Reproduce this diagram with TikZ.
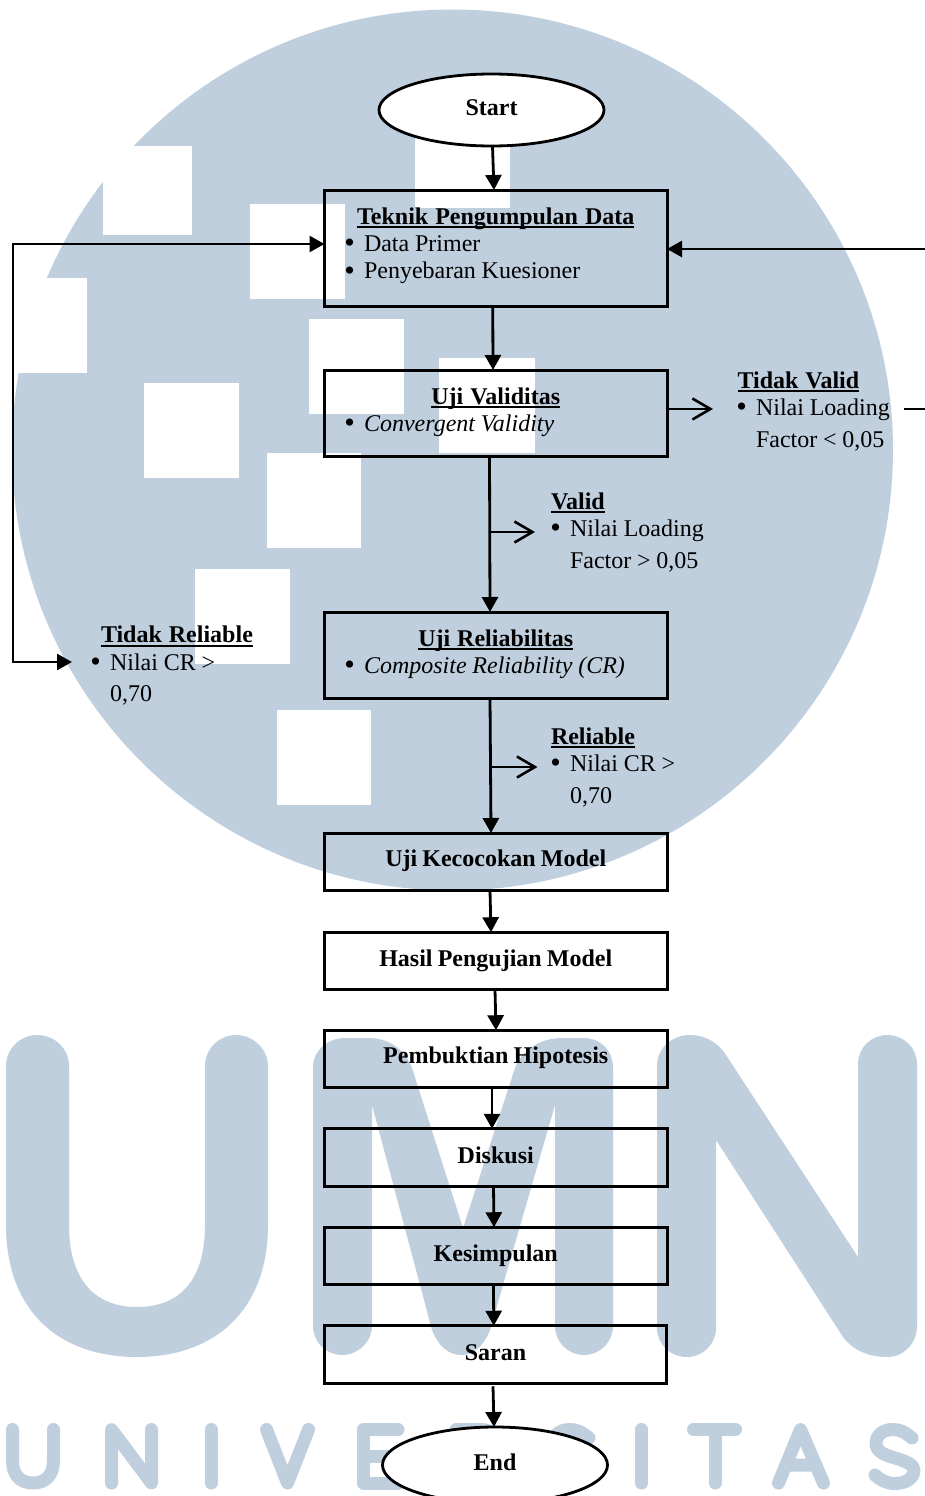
\documentclass[tikz,border=0pt]{standalone}
\usepackage{fontspec}
\setmainfont{Liberation Serif}[BoldFeatures={WordSpace=0.85}]
\usetikzlibrary{arrows.meta,shapes.geometric}
\definecolor{wm}{HTML}{BFCFDE}
\newcommand{\bodyfont}{\fontsize{24}{27.3}\selectfont}
\newcommand{\ttl}[1]{\textbf{\spaceskip=7pt\relax\setbox0=\hbox{#1}\rlap{\rule[-4pt]{\wd0}{2.2pt}}\box0}}
\newcommand{\bl}[2][39.5pt]{\hspace*{#1}\spaceskip=5.8pt\relax\llap{\raisebox{-1.5pt}{\fontsize{30}{27}\selectfont\textbullet}\hspace{9.2pt}}#2}
\newcommand{\ctn}[2][19pt]{\hspace*{#1}\spaceskip=5.8pt\relax #2}
\tikzset{
  x=1pt,y=-1pt,
  flowbox/.style={draw=black,line width=3pt,rectangle,minimum width=342.5pt,inner sep=0pt,outer sep=0pt,font=\bodyfont},
  onebox/.style={flowbox,minimum height=#1,text height=15pt,text depth=3.5pt,font=\fontsize{24}{27.3}\selectfont\bfseries},
  listbox/.style={flowbox,text width=342.5pt},
  terminal/.style={draw=black,line width=2.8pt,fill=white,ellipse,inner sep=0pt,outer sep=0pt,minimum width=225pt,text height=15pt,text depth=3.5pt,font=\fontsize{24}{27.3}\selectfont\bfseries},
  sidetext/.style={anchor=base west,inner sep=0pt,outer sep=0pt,text width=220pt,align=left,font=\bodyfont},
  flow/.style={line width=2.8pt,-{Triangle[length=15pt,width=16pt]}},
  openflow/.style={line width=2.6pt,-{Straight Barb[length=18pt,width=21pt,line width=2.6pt]}},
  plain/.style={line width=2.8pt},
  wmstroke/.style={draw=wm,line width=13pt,line cap=round,line join=round},
  hole/.style={fill=white,draw=none},
}
\begin{document}
\begin{tikzpicture}
\clip (0,0) rectangle (925,1496);
\fill[white] (0,0) rectangle (925,1496);
% watermark
\fill[wm] (452.5,450) circle[radius=440.5];
\fill[hole] (103,146) rectangle (192,235);
\fill[hole] (250,204) rectangle (345,299);
\fill[hole] (415,113) rectangle (510,208);
\fill[hole] (309,319) rectangle (404,414);
\fill[hole] (439,358) rectangle (534.5,453);
\fill[hole] (144,383) rectangle (239,478);
\fill[hole] (266.5,453) rectangle (361,548);
\fill[hole] (195,569) rectangle (290,664);
\fill[hole] (276.5,709.5) rectangle (371,804.5);
\fill[hole] (-5,278) rectangle (87,373);
% big U
\fill[wm] (6,1066) .. controls (6,1049) and (20,1035) .. (37,1035) .. controls (55,1035) and (69,1049) .. (69,1066) -- (69,1225) .. controls (69,1280) and (95,1307) .. (137,1307) .. controls (180,1307) and (205,1280) .. (205,1225) -- (205,1066) .. controls (205,1049) and (219,1035) .. (236,1035) .. controls (253,1035) and (268,1049) .. (268,1066) -- (268,1225) .. controls (268,1310) and (215,1357) .. (137,1357) .. controls (58,1357) and (6,1310) .. (6,1225) -- cycle;
% big M
\fill[wm] (313,1068) .. controls (313,1050) and (328,1038) .. (345,1038) -- (368,1038) .. controls (390,1038) and (405,1050) .. (412,1068) -- (463,1228) -- (515,1068) .. controls (522,1050) and (540,1038) .. (562,1038) -- (584,1038) .. controls (600,1038) and (613,1050) .. (613,1068) -- (613,1326) .. controls (613,1342) and (600,1355) .. (584,1355) .. controls (568,1355) and (555,1342) .. (555,1326) -- (555,1105) -- (490,1330) .. controls (484,1346) and (473,1355) .. (461,1355) .. controls (449,1355) and (438,1346) .. (432,1330) -- (372,1105) -- (372,1326) .. controls (372,1342) and (358,1355) .. (342,1355) .. controls (326,1355) and (313,1342) .. (313,1326) -- cycle;
% big N
\fill[wm] (657,1066) .. controls (657,1048) and (672,1035) .. (690,1035) .. controls (705,1035) and (716,1042) .. (724,1052) -- (858,1257) -- (858,1064) .. controls (858,1048) and (871,1035) .. (887,1035) .. controls (904,1035) and (917,1048) .. (917,1064) -- (917,1326) .. controls (917,1343) and (904,1357) .. (887,1357) .. controls (867,1357) and (852,1349) .. (843,1337) -- (716,1140) -- (716,1328) .. controls (716,1344) and (703,1357) .. (687,1357) .. controls (670,1357) and (657,1344) .. (657,1328) -- cycle;
% UNIVERSITAS
\draw[wmstroke] (12.5,1429.5) -- (12.5,1460) .. controls (12.5,1475) and (20,1483) .. (33,1483) .. controls (46,1483) and (53.5,1475) .. (53.5,1460) -- (53.5,1429.5);
\draw[wmstroke] (111.5,1483) -- (111.5,1429.5) -- (151.5,1483) -- (151.5,1429.5);
\draw[wmstroke] (211,1429.5) -- (211,1483);
\draw[wmstroke] (266.5,1429.5) -- (287.5,1483) -- (308.5,1429.5);
\draw[wmstroke] (398,1429.5) -- (363.5,1429.5) -- (363.5,1483) -- (398,1483) (363.5,1456) -- (394,1456);
\draw[wmstroke] (456,1483) -- (456,1429.5) -- (480,1429.5) .. controls (506,1429.5) and (506,1462) .. (480,1462) -- (456,1462) (480,1462) -- (502,1483);
\draw[wmstroke] (589,1438) .. controls (582,1432) and (577,1429.5) .. (570,1429.5) .. controls (559,1429.5) and (553,1436) .. (553,1443) .. controls (553,1452) and (562,1455) .. (572,1458) .. controls (583,1461) and (591,1465) .. (591,1470) .. controls (591,1478) and (583,1483.5) .. (572,1483.5) .. controls (564,1483.5) and (557,1480) .. (552,1475);
\draw[wmstroke] (641.5,1429.5) -- (641.5,1483);
\draw[wmstroke] (693.5,1429.5) -- (735.5,1429.5) (715,1429.5) -- (715,1483);
\draw[wmstroke] (778.5,1483) -- (800.5,1429.5) -- (823.5,1483) (786,1465) -- (816,1465);
\draw[wmstroke] (912,1438) .. controls (905,1432) and (900,1429.5) .. (893,1429.5) .. controls (882,1429.5) and (876,1436) .. (876,1443) .. controls (876,1452) and (885,1455) .. (895,1458) .. controls (906,1461) and (914,1465) .. (914,1470) .. controls (914,1478) and (906,1483.5) .. (895,1483.5) .. controls (887,1483.5) and (880,1480) .. (875,1475);
% nodes
\node[terminal,minimum height=72pt] (start) at (491.5,110) {Start};
\node[listbox,minimum height=116pt,text height=4pt,text depth=52pt] (tek) at (495.75,248) {\centering\ttl{Teknik Pengumpulan Data}\par\raggedright\bl{Data Primer}\par\bl{Penyebaran Kuesioner}};
\node[listbox,minimum height=86pt,text height=4pt,text depth=22pt] (val) at (495.75,413) {\centering\ttl{Uji Validitas}\par\raggedright\bl{\textit{Convergent Validity}}};
\node[listbox,minimum height=86pt,text height=4pt,text depth=22pt] (rel) at (495.75,655) {\centering\ttl{Uji Reliabilitas}\par\raggedright\bl{\textit{Composite Reliability (CR)}}};
\node[onebox=57.5pt,text depth=5.5pt] (koc) at (495.75,861.75) {Uji Kecocokan Model};
\node[onebox=57.5pt] (has) at (495.75,961) {Hasil Pengujian Model};
\node[onebox=57.5pt,text depth=5.5pt] (pem) at (495.75,1059) {Pembuktian Hipotesis};
\node[onebox=57.5pt] (dis) at (495.75,1157.5) {Diskusi};
\node[onebox=57.5pt] (kes) at (495.75,1256) {Kesimpulan};
\node[onebox=57.5pt] (sar) at (495.5,1354.5) {Saran};
\node[terminal,minimum height=76pt] (end) at (495,1465) {End};
\node[sidetext] (tv) at (737.5,388) {\ttl{Tidak Valid}\\\bl[18.5pt]{Nilai Loading}\\[4.5pt]\ctn[18.5pt]{Factor < 0,05}};
\node[sidetext] (vd) at (551,509) {\ttl{Valid}\\\bl[19pt]{Nilai Loading}\\[4.5pt]\ctn{Factor > 0,05}};
\node[sidetext] (rb) at (551,744) {\ttl{Reliable}\\\bl[19pt]{Nilai CR >}\\[4.5pt]\ctn{0,70}};
\node[sidetext] (tr) at (101,642.7) {\ttl{Tidak Reliable}\\\bl[9pt]{Nilai CR >}\\[4.5pt]\ctn[9pt]{0,70}};
% free ends
\coordinate (tvin) at (713,409);
\coordinate (tvout) at (904,409);
\coordinate (tvedge) at (925,409);
\coordinate (tekedge) at (925,249);
\coordinate (vdj) at (490,532);
\coordinate (vdin) at (535,532);
\coordinate (rbj) at (490.7,767);
\coordinate (rbin) at (537.5,767);
\coordinate (loopa) at (13,244);
\coordinate (loopb) at (13,662);
\coordinate (trin) at (72,662);
% connectors
\draw[flow] ([xshift=1pt]start.south) -- ([xshift=-1.75pt]tek.north);
\draw[flow] ([xshift=-3pt]tek.south) -- ([xshift=-2.75pt]val.north);
\draw[flow] ([xshift=-6.25pt]val.south) -- ([xshift=-5.75pt]rel.north);
\draw[flow] ([xshift=-5.75pt]rel.south) -- ([xshift=-4.75pt]koc.north);
\draw[flow] ([xshift=-5.75pt]koc.south) -- ([xshift=-4.75pt]has.north);
\draw[flow] ([xshift=-0.75pt]has.south) -- ([xshift=0.25pt]pem.north);
\draw[flow] ([xshift=-3.75pt]pem.south) -- ([xshift=-3.75pt]dis.north);
\draw[flow] ([xshift=-2.25pt]dis.south) -- ([xshift=-1.75pt]kes.north);
\draw[flow] ([xshift=-2.25pt]kes.south) -- ([xshift=-1.75pt]sar.north);
\draw[flow] ([xshift=-2.5pt,yshift=-3pt]sar.south) -- ([xshift=-1pt]end.north);
\draw[openflow] ([yshift=4pt]val.east) -- (tvin);
\draw[openflow] (vdj) -- (vdin);
\draw[openflow] (rbj) -- (rbin);
\draw[plain] (tvout) -- (tvedge);
\draw[flow] (tekedge) -- ([yshift=-1pt]tek.east);
\draw[line width=2.6pt,line join=miter,{Triangle[length=15pt,width=16pt]}-{Triangle[length=15pt,width=16pt]}] ([yshift=4pt]tek.west) -- (loopa) -- (loopb) -- (trin);
\end{tikzpicture}
\end{document}
